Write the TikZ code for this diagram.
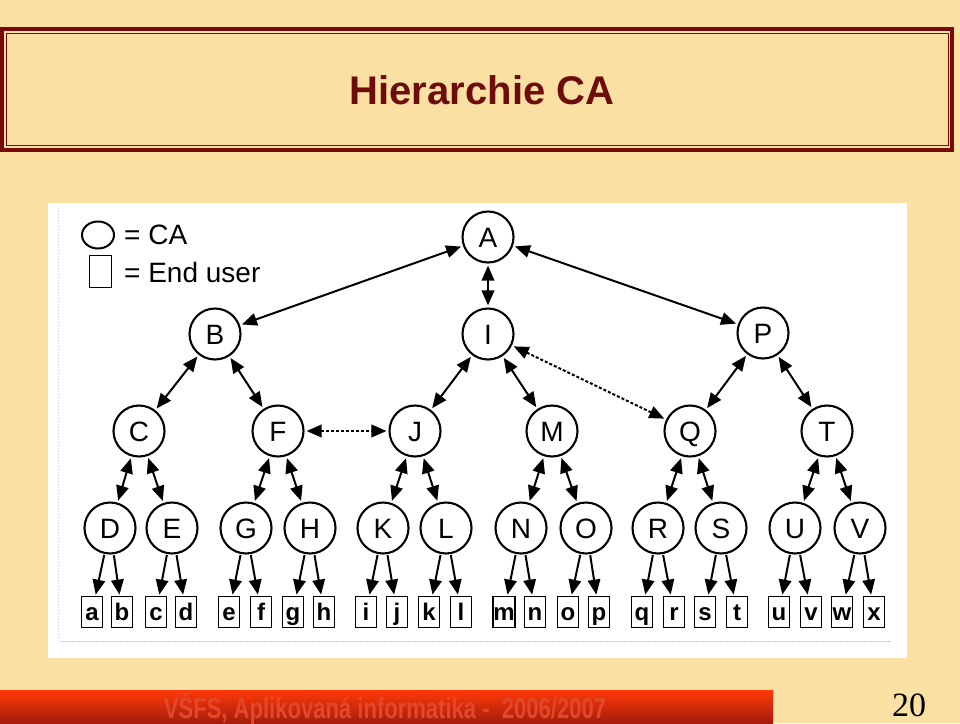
\documentclass[tikz,border=0pt]{standalone}
\usepackage{fontspec}
\setmainfont{Liberation Sans}
\newfontfamily\numfont{Liberation Serif}
\usetikzlibrary{arrows.meta,shapes.geometric}
\definecolor{bgwheat}{RGB}{250,224,163}
\definecolor{darkred}{RGB}{120,10,10}
\definecolor{titlered}{RGB}{110,12,12}
\definecolor{bartop}{RGB}{255,58,8}
\definecolor{barbot}{RGB}{165,28,10}
\definecolor{bartext}{RGB}{226,72,44}
\tikzset{
  ca/.style={circle, draw, line width=2.1pt, minimum size=51pt, inner sep=0pt,
    text height=20pt, text depth=0pt, font=\fontsize{28}{28}\selectfont},
  leaf/.style={rectangle, draw, line width=1.8pt, minimum width=21pt, minimum height=31pt,
    inner sep=0pt, text height=16pt, text depth=0pt, font=\fontsize{24}{24}\selectfont\bfseries},
  tip/.tip={Triangle[length=15pt,width=12.5pt]},
  link/.style={line width=2pt, tip-tip, shorten <=2pt, shorten >=2pt},
  dotlink/.style={link, dash pattern=on 3pt off 2pt},
  down/.style={line width=2pt, -tip, shorten <=1pt, shorten >=1pt},
  legendtxt/.style={anchor=base west, inner sep=0pt, font=\fontsize{28}{28}\selectfont}
}
\begin{document}
\begin{tikzpicture}[x=1pt,y=-1pt]
\useasboundingbox (0,0) rectangle (960,723);
\fill[bgwheat] (0,0) rectangle (960,723);
% title box
\draw[darkred, line width=4pt] (2,29) rectangle (952,150);
\draw[darkred, line width=1pt] (6,33.5) rectangle (948,145.5);
\node[anchor=base, inner sep=0pt, text=titlered, font=\fontsize{40}{40}\selectfont\bfseries] (title) at (482,104.5) {Hierarchie CA};
% picture panel
\fill[white] (48,203) rectangle (907,658);
\draw[gray!45, line width=0.6pt, dash pattern=on 1pt off 2pt] (58,208) -- (58,640);
\draw[gray!45, line width=0.6pt, dash pattern=on 1.5pt off 1.5pt] (60,641) -- (890,641);
% legend
\node[draw, ellipse, line width=2pt, minimum width=32pt, minimum height=27pt, inner sep=0pt] (lgca) at (98,235) {};
\node[draw, rectangle, line width=1.8pt, minimum width=22pt, minimum height=32pt, inner sep=0pt] (lguser) at (100.5,271.5) {};
\node[legendtxt] (lgcat) at (124,244) {= CA};
\node[legendtxt] (lgusert) at (124,282) {= End user};
% CA nodes
\node[ca] (A) at (488,237) {A};
\node[ca] (B) at (215,334) {B};
\node[ca] (I) at (488,334) {I};
\node[ca] (P) at (763,333) {P};
\node[ca] (C) at (139,431) {C};
\node[ca] (F) at (278,431) {F};
\node[ca] (J) at (415,431) {J};
\node[ca] (M) at (552,431) {M};
\node[ca] (Q) at (690,431) {Q};
\node[ca] (T) at (827,431) {T};
\node[ca] (D) at (110,528) {D};
\node[ca] (E) at (172,528) {E};
\node[ca] (G) at (246,528) {G};
\node[ca] (H) at (310,528) {H};
\node[ca] (K) at (383,528) {K};
\node[ca] (L) at (446,528) {L};
\node[ca] (N) at (521,528) {N};
\node[ca] (O) at (586,528) {O};
\node[ca] (R) at (658,528) {R};
\node[ca] (S) at (721,528) {S};
\node[ca] (U) at (795,528) {U};
\node[ca] (V) at (860,528) {V};
% leaves
\foreach \n/\x in {a/92,b/122,c/156,d/186,e/229,f/261,g/293,h/324,i/366,j/397,k/429,l/461,m/504,n/535,o/568,p/599,q/642,r/674,s/705,t/737,u/779,v/811,w/842,x/874}
  \node[leaf] (u\n) at (\x,612) {\n};
% links
\draw[link] (A) -- (B);
\draw[link] (A) -- (I);
\draw[link] (A) -- (P);
\draw[link] (B) -- (C);
\draw[link] (B) -- (F);
\draw[link] (I) -- (J);
\draw[link] (I) -- (M);
\draw[link] (P) -- (Q);
\draw[link] (P) -- (T);
\draw[dotlink] (F) -- (J);
\draw[dotlink] (I) -- (Q);
\foreach \p/\c in {C/D,C/E,F/G,F/H,J/K,J/L,M/N,M/O,Q/R,Q/S,T/U,T/V}
  \draw[link] (\p) -- (\c);
\foreach \p/\c in {D/a,D/b,E/c,E/d,G/e,G/f,H/g,H/h,K/i,K/j,L/k,L/l,N/m,N/n,O/o,O/p,R/q,R/r,S/s,S/t,U/u,U/v,V/w,V/x}
  \draw[down] (\p) -- (u\c);
% footer
\shade[top color=bartop, bottom color=barbot] (0,690) rectangle (773,723);
\node[anchor=base, inner sep=0pt, text=bartext, font=\fontsize{29}{29}\selectfont\bfseries] (foot) at (385,718) {\scalebox{0.76}[1]{VŠFS, Aplikovaná informatika -~ 2006/2007}};
\node[anchor=base, inner sep=0pt, font=\numfont\fontsize{34}{34}\selectfont] (pagenum) at (909,716) {20};
\end{tikzpicture}
\end{document}
